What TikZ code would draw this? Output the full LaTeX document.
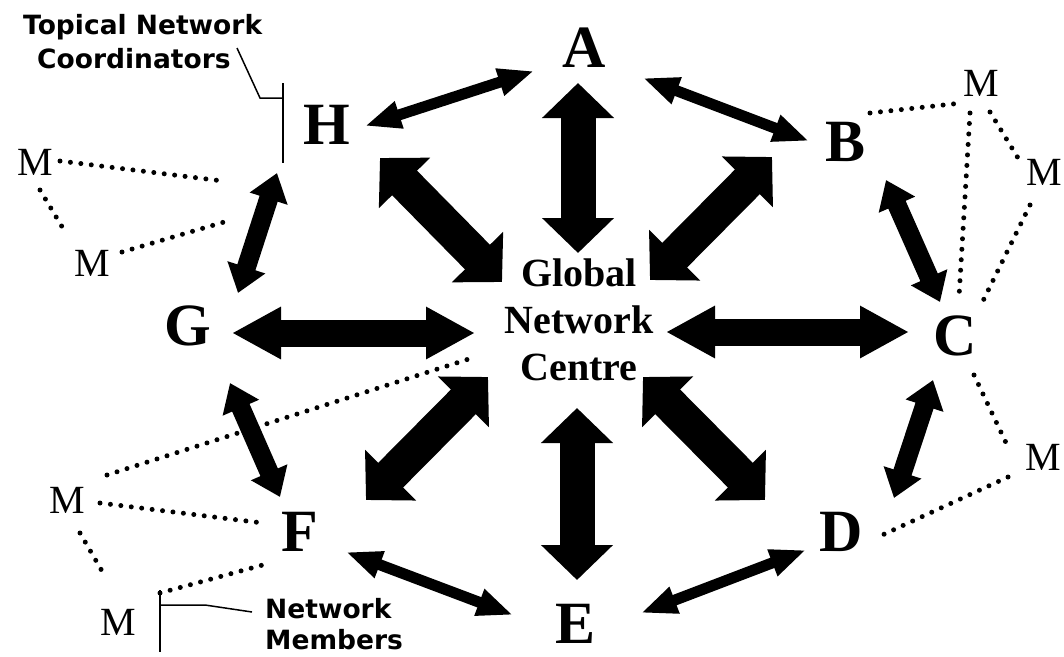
\documentclass[tikz,border=0pt]{standalone}
\usepackage{fontspec}
\setmainfont{Liberation Serif}
\newfontfamily\labelsans{DejaVu Sans}
\usetikzlibrary{arrows.meta}

\begin{document}
\begin{tikzpicture}[x=1pt,y=-1pt,
  site/.style={font=\fontsize{60}{60}\selectfont\bfseries, inner sep=0pt},
  member/.style={font=\fontsize{40}{40}\selectfont, inner sep=0pt},
  hub/.style={font=\fontsize{40}{47}\selectfont\bfseries, align=center, inner sep=0pt},
  note/.style={font=\labelsans\bfseries\fontsize{26.5}{34}\selectfont, align=left, inner sep=0pt},
  bigarrow/.style={line width=35pt, {Triangle[length=35pt,width=70pt]}-{Triangle[length=35pt,width=70pt]}},
  flatarrow/.style={line width=27pt, {Triangle[length=49pt,width=49pt]}-{Triangle[length=49pt,width=49pt]}},
  midarrow/.style={line width=19pt, {Triangle[length=27pt,width=38pt]}-{Triangle[length=27pt,width=38pt]}},
  thinarrow/.style={line width=11pt, {Triangle[length=36pt,width=26pt]}-{Triangle[length=36pt,width=26pt]}},
  dots/.style={line width=5pt, line cap=round, dash pattern=on 0pt off 10.5pt},
  leader/.style={line width=1.5pt}
]
\fill[white] (0,0) rectangle (1064,656);
\useasboundingbox (0,0) rectangle (1064,656);

% coordinators around the centre
\node[site] (A) at (584,48)  {A};
\node[site] (B) at (845,142) {B};
\node[site] (C) at (955,336) {C};
\node[site] (D) at (841,532) {D};
\node[site] (E) at (575,624) {E};
\node[site] (F) at (300,532) {F};
\node[site] (G) at (188,326) {G};
\node[site] (H) at (327,125) {H};

\node[hub] (hub) at (579,320) {Global\\Network\\Centre};

% network members
\node[member] (M1) at (35,162)   {M};
\node[member] (M2) at (92,263)   {M};
\node[member] (M3) at (67,500)   {M};
\node[member] (M4) at (118,622)  {M};
\node[member] (M5) at (981,83)   {M};
\node[member] (M6) at (1044,172) {M};
\node[member] (M7) at (1043,457) {M};

% callout texts
\node[note, anchor=north west] (topnote) at (23,14) {Topical Network\\\hspace*{14pt}Coordinators};
\node[note, anchor=north west, font=\labelsans\bfseries\fontsize{26.5}{31}\selectfont] (botnote) at (265,598) {Network\\Members};

% ends of the hub arrows
\coordinate (A-hub) at (578,83);   \coordinate (hub-A) at (578,253);
\coordinate (H-hub) at (380,158);  \coordinate (hub-H) at (502,282);
\coordinate (B-hub) at (772,157);  \coordinate (hub-B) at (650,280);
\coordinate (G-hub) at (232,333);  \coordinate (hub-G) at (475,333);
\coordinate (C-hub) at (909,332);  \coordinate (hub-C) at (666,332);
\coordinate (F-hub) at (366,500);  \coordinate (hub-F) at (488,377);
\coordinate (E-hub) at (577,580);  \coordinate (hub-E) at (577,408);
\coordinate (D-hub) at (765,500);  \coordinate (hub-D) at (643,377);

\draw[bigarrow]  (A-hub) -- (hub-A);
\draw[bigarrow]  (H-hub) -- (hub-H);
\draw[bigarrow]  (B-hub) -- (hub-B);
\draw[flatarrow] (G-hub) -- (hub-G);
\draw[flatarrow] (C-hub) -- (hub-C);
\draw[bigarrow]  (F-hub) -- (hub-F);
\draw[bigarrow]  (E-hub) -- (hub-E);
\draw[bigarrow]  (D-hub) -- (hub-D);

% ends of the ring arrows
\coordinate (H-A) at (365,126); \coordinate (A-H) at (534,71);
\coordinate (A-B) at (643,78);  \coordinate (B-A) at (809,141);
\coordinate (B-C) at (886,180); \coordinate (C-B) at (940,302);
\coordinate (C-D) at (933,380); \coordinate (D-C) at (894,498);
\coordinate (D-E) at (806,550); \coordinate (E-D) at (641,613);
\coordinate (E-F) at (513,615); \coordinate (F-E) at (346,552);
\coordinate (F-G) at (280,497); \coordinate (G-F) at (230,383);
\coordinate (G-H) at (238,293); \coordinate (H-G) at (277,173);

\draw[thinarrow] (H-A) -- (A-H);
\draw[thinarrow] (A-B) -- (B-A);
\draw[midarrow]  (B-C) -- (C-B);
\draw[midarrow]  (C-D) -- (D-C);
\draw[thinarrow] (D-E) -- (E-D);
\draw[thinarrow] (E-F) -- (F-E);
\draw[midarrow]  (F-G) -- (G-F);
\draw[midarrow]  (G-H) -- (H-G);

% dotted member links
\coordinate (M1-H)  at (60,161);   \coordinate (H-M1)  at (223,181);
\coordinate (M1-M2) at (40,190);   \coordinate (M2-M1) at (67,235);
\coordinate (M2-H)  at (122,252);  \coordinate (H-M2)  at (231,220);
\coordinate (M3-hub) at (107,475); \coordinate (hub-M3) at (475,357);
\coordinate (M3-F)  at (100,503);  \coordinate (F-M3)  at (263,523);
\coordinate (M3-M4) at (80,533);   \coordinate (M4-M3) at (106,578);
\coordinate (M4-F)  at (160,593);  \coordinate (F-M4)  at (270,563);
\coordinate (B-M5)  at (870,113);  \coordinate (M5-B)  at (962,103);
\coordinate (M5-C)  at (970,113);  \coordinate (C-M5)  at (959,297);
\coordinate (M5-M6) at (990,112);  \coordinate (M6-M5) at (1018,158);
\coordinate (M6-C)  at (1030,205); \coordinate (C-M6)  at (980,307);
\coordinate (C-M7)  at (974,375);  \coordinate (M7-C)  at (1008,447);
\coordinate (M7-D)  at (1008,477); \coordinate (D-M7)  at (878,537);

\draw[dots] (M1-H) -- (H-M1);
\draw[dots] (M1-M2) -- (M2-M1);
\draw[dots] (M2-H) -- (H-M2);
\draw[dots] (M3-hub) -- (hub-M3);
\draw[dots] (M3-F) -- (F-M3);
\draw[dots] (M3-M4) -- (M4-M3);
\draw[dots] (M4-F) -- (F-M4);
\draw[dots] (B-M5) -- (M5-B);
\draw[dots] (M5-C) -- (C-M5);
\draw[dots] (M5-M6) -- (M6-M5);
\draw[dots] (M6-C) -- (C-M6);
\draw[dots] (C-M7) -- (M7-C);
\draw[dots] (M7-D) -- (D-M7);

% callout leaders
\coordinate (top-bend) at (260,98);
\draw[leader] (237,48) -- (top-bend) -- (283,98);
\draw[leader] (283,83) -- (283,163);
\draw[leader] (160,590) -- (160,652);
\draw[leader] (160,605) -- (205,605) -- (252,612);
\end{tikzpicture}
\end{document}
